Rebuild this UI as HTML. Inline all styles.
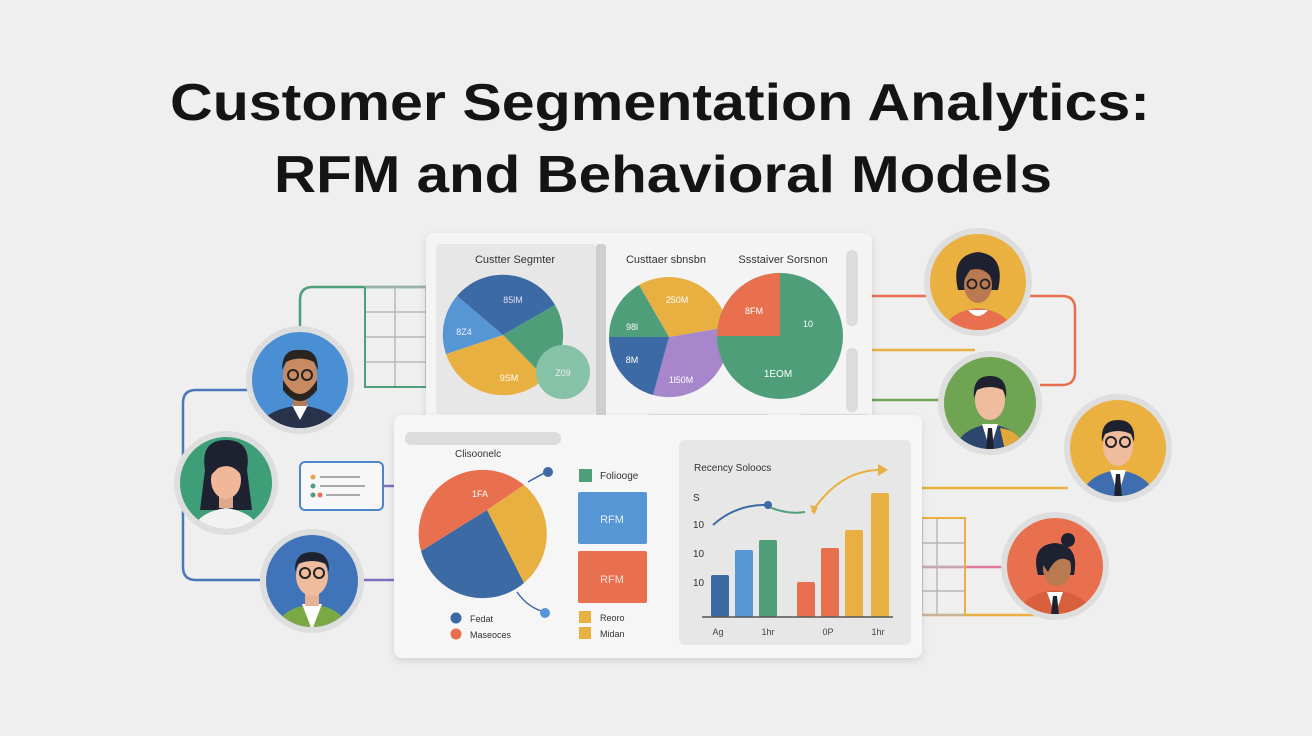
<!DOCTYPE html>
<html><head><meta charset="utf-8"><style>
html,body{margin:0;padding:0;background:#efefef;}
svg{display:block;font-family:"Liberation Sans",sans-serif;}
</style></head><body>
<svg width="1312" height="736" viewBox="0 0 1312 736" xmlns="http://www.w3.org/2000/svg">
<defs>
<filter id="sh" x="-10%" y="-10%" width="120%" height="125%"><feDropShadow dx="0" dy="3" stdDeviation="4" flood-color="#000" flood-opacity="0.12"/></filter>
<clipPath id="c1"><circle cx="300" cy="380" r="48"/></clipPath>
<clipPath id="c2"><circle cx="226" cy="483" r="46"/></clipPath>
<clipPath id="c3"><circle cx="312" cy="581" r="46"/></clipPath>
<clipPath id="c4"><circle cx="978" cy="282" r="48"/></clipPath>
<clipPath id="c5"><circle cx="990" cy="403" r="46"/></clipPath>
<clipPath id="c6"><circle cx="1118" cy="448" r="48"/></clipPath>
<clipPath id="c7"><circle cx="1055" cy="566" r="48"/></clipPath>
</defs>
<rect width="1312" height="736" fill="#efefef"/>
<text x="660" y="120" text-anchor="middle" font-size="52" font-weight="bold" fill="#141414" textLength="980" lengthAdjust="spacingAndGlyphs">Customer Segmentation Analytics:</text>
<text x="663" y="192" text-anchor="middle" font-size="52" font-weight="bold" fill="#141414" textLength="778" lengthAdjust="spacingAndGlyphs">RFM and Behavioral Models</text>

<!-- left connectors -->
<g fill="none" stroke-width="2.5">
<path d="M300 330 V300 Q300 287 313 287 H430" stroke="#4f9e7a"/>
<path d="M248 390 H196 Q183 390 183 403 V567 Q183 580 196 580 H262" stroke="#4a78b8"/>
<path d="M362 580 H396" stroke="#7a72c0"/>
<path d="M383 486 H396" stroke="#7a72c0"/>
</g>
<g stroke="#b8b8b8" stroke-width="1.5" fill="none">
<rect x="365" y="287" width="61" height="100"/>
<path d="M365 312H426M365 337H426M365 362H426M395 287V387"/>
</g>
<path d="M365 287 V387 H426" stroke="#4f9e7a" stroke-width="2" fill="none"/>
<rect x="300" y="462" width="83" height="48" rx="5" fill="#f7f7f7" stroke="#4a86c8" stroke-width="2"/>
<circle cx="313" cy="477" r="2.5" fill="#e8a34a"/><line x1="320" y1="477" x2="360" y2="477" stroke="#aaa" stroke-width="2"/>
<circle cx="313" cy="486" r="2.5" fill="#4f9e7a"/><line x1="320" y1="486" x2="365" y2="486" stroke="#aaa" stroke-width="2"/>
<circle cx="313" cy="495" r="2.5" fill="#4f9e7a"/><circle cx="320" cy="495" r="2.5" fill="#e8704f"/><line x1="326" y1="495" x2="360" y2="495" stroke="#aaa" stroke-width="2"/>

<!-- right connectors -->
<g fill="none" stroke-width="2.5">
<path d="M868 296 H930" stroke="#e8704f"/>
<path d="M1030 296 H1062 Q1075 296 1075 309 V372 Q1075 385 1062 385 H1040" stroke="#e8704f"/>
<path d="M868 350 H975" stroke="#eab040"/>
<path d="M868 400 H942" stroke="#6fa552"/>
<path d="M918 488 H1068" stroke="#eab040"/>
<path d="M918 567 H1003" stroke="#e07a9a"/>
<path d="M918 615 H1050" stroke="#eab040"/>
</g>
<g stroke="#b8b8b8" stroke-width="1.5" fill="none">
<rect x="922" y="518" width="43" height="97"/>
<path d="M922 543H965M922 567H965M922 591H965M937 518V615"/>
</g>
<path d="M922 518 H965 V615" stroke="#eab040" stroke-width="2" fill="none"/>

<!-- top panel -->
<rect x="426" y="233" width="446" height="200" rx="8" fill="#f4f4f4" filter="url(#sh)"/>
<rect x="436" y="244" width="160" height="170" rx="4" fill="#e7e7e7"/>
<rect x="596" y="244" width="10" height="196" rx="3" fill="#cfcfcf"/>
<rect x="846" y="250" width="12" height="76" rx="6" fill="#dcdcdc"/>
<rect x="846" y="348" width="12" height="64" rx="6" fill="#dcdcdc"/>
<rect x="645" y="414" width="127" height="13" rx="6" fill="#dedede"/>
<rect x="797" y="414" width="75" height="13" rx="6" fill="#dedede"/>
<text x="515" y="263" text-anchor="middle" font-size="11" fill="#333">Custter Segmter</text>
<text x="666" y="263" text-anchor="middle" font-size="11" fill="#333">Custtaer sbnsbn</text>
<text x="783" y="263" text-anchor="middle" font-size="11" fill="#333">Ssstaiver Sorsnon</text>
<!-- pie1 center 503,335 r60 -->
<g>
<path d="M503 335 L457 296 A60 60 0 0 1 555 305 Z" fill="#3c6aa5"/>
<path d="M503 335 L555 305 A60 60 0 0 1 545 378 Z" fill="#4f9e7a"/>
<path d="M503 335 L545 378 A60 60 0 0 1 446 354 Z" fill="#e8b040"/>
<path d="M503 335 L446 354 A60 60 0 0 1 457 296 Z" fill="#5696d4"/>
<circle cx="563" cy="372" r="27" fill="#86c2a8"/>
<text x="513" y="303" font-size="9" fill="#dde" text-anchor="middle">85lM</text>
<text x="464" y="335" font-size="9" fill="#eef" text-anchor="middle">8Z4</text>
<text x="509" y="381" font-size="9" fill="#fff" text-anchor="middle">9SM</text>
<text x="563" y="376" font-size="9" fill="#eee" text-anchor="middle">Z09</text>
</g>
<!-- pie2 center 669,337 r60 -->
<g>
<path d="M669 337 L639 285 A60 60 0 0 1 728 327 Z" fill="#e8b040"/>
<path d="M669 337 L728 327 A60 60 0 0 1 653 395 Z" fill="#a886cc"/>
<path d="M669 337 L653 395 A60 60 0 0 1 609 337 Z" fill="#3c6aa5"/>
<path d="M669 337 L609 337 A60 60 0 0 1 639 285 Z" fill="#4f9e7a"/>
<text x="677" y="303" font-size="9" fill="#fff" text-anchor="middle">250M</text>
<text x="632" y="330" font-size="9" fill="#fff" text-anchor="middle">98l</text>
<text x="632" y="363" font-size="9" fill="#fff" text-anchor="middle">8M</text>
<text x="681" y="383" font-size="9" fill="#fff" text-anchor="middle">1l50M</text>
</g>
<!-- pie3 center 780,336 r63 -->
<circle cx="780" cy="336" r="63" fill="#4f9e7a"/>
<path d="M780 336 V273 A63 63 0 0 0 717 336 Z" fill="#e8704f"/>
<text x="754" y="314" font-size="9" fill="#fff" text-anchor="middle">8FM</text>
<text x="808" y="327" font-size="9" fill="#fff" text-anchor="middle">10</text>
<text x="778" y="377" font-size="10" fill="#fff" text-anchor="middle">1EOM</text>

<!-- bottom panel -->
<rect x="394" y="415" width="528" height="243" rx="8" fill="#f6f6f6" filter="url(#sh)"/>
<rect x="405" y="432" width="156" height="13" rx="6" fill="#dcdcdc"/>
<text x="455" y="457" font-size="10" fill="#333">Clisoonelc</text>
<g>
<path d="M487 510 L524 485 A64 64 0 0 1 524 583 Z" fill="#e8b040"/>
<path d="M487 510 L524 583 A64 64 0 0 1 421 551 Z" fill="#3c6aa5"/>
<path d="M487 510 L421 551 A64 64 0 0 1 524 485 Z" fill="#e8704f"/>
<text x="480" y="497" font-size="9" fill="#fff" text-anchor="middle">1FA</text>
</g>
<path d="M528 482 Q540 475 547 472" stroke="#3c6aa5" stroke-width="1.5" fill="none"/>
<circle cx="548" cy="472" r="5" fill="#3c6aa5"/>
<path d="M517 592 Q528 608 545 612" stroke="#3c6aa5" stroke-width="1.5" fill="none"/>
<circle cx="545" cy="613" r="5" fill="#5696d4"/>
<circle cx="456" cy="618" r="5.5" fill="#3c6aa5"/><text x="470" y="622" font-size="9" fill="#333">Fedat</text>
<circle cx="456" cy="634" r="5.5" fill="#e8704f"/><text x="470" y="638" font-size="9" fill="#333">Maseoces</text>
<rect x="579" y="469" width="13" height="13" fill="#4f9e7a"/><text x="600" y="479" font-size="10" fill="#333">Foliooge</text>
<rect x="578" y="492" width="69" height="52" rx="2" fill="#5696d4"/><text x="612" y="523" font-size="11" fill="#e8eefa" text-anchor="middle">RFM</text>
<rect x="578" y="551" width="69" height="52" rx="2" fill="#e8704f"/><text x="612" y="583" font-size="11" fill="#fbe0d8" text-anchor="middle">RFM</text>
<rect x="579" y="611" width="12" height="12" fill="#e8b040"/><text x="600" y="621" font-size="9" fill="#333">Reoro</text>
<rect x="579" y="627" width="12" height="12" fill="#e8b040"/><text x="600" y="637" font-size="9" fill="#333">Midan</text>
<!-- chart -->
<rect x="679" y="440" width="232" height="205" rx="6" fill="#e7e7e7"/>
<text x="694" y="471" font-size="10" fill="#333">Recency Soloocs</text>
<text x="693" y="501" font-size="10" fill="#333">S</text>
<text x="693" y="528" font-size="10" fill="#333">10</text>
<text x="693" y="557" font-size="10" fill="#333">10</text>
<text x="693" y="586" font-size="10" fill="#333">10</text>
<path d="M713 525 Q735 505 765 505" stroke="#3c6aa5" stroke-width="2" fill="none"/>
<path d="M765 505 Q785 515 805 512" stroke="#4f9e7a" stroke-width="2" fill="none"/>
<circle cx="768" cy="505" r="4" fill="#3c6aa5"/>
<path d="M812 512 Q840 470 880 470" stroke="#e8b040" stroke-width="2" fill="none"/>
<path d="M878 464 L888 470 L878 476 Z" fill="#e8b040"/>
<path d="M810 505 L814 515 L818 507 Z" fill="#e8b040"/>
<rect x="711" y="575" width="18" height="42" rx="2" fill="#3c6aa5"/>
<rect x="735" y="550" width="18" height="67" rx="2" fill="#5696d4"/>
<rect x="759" y="540" width="18" height="77" rx="2" fill="#4f9e7a"/>
<rect x="797" y="582" width="18" height="35" rx="2" fill="#e8704f"/>
<rect x="821" y="548" width="18" height="69" rx="2" fill="#e8704f"/>
<rect x="845" y="530" width="18" height="87" rx="2" fill="#e8b040"/>
<rect x="871" y="493" width="18" height="124" rx="2" fill="#e8b040"/>
<line x1="702" y1="617" x2="893" y2="617" stroke="#555" stroke-width="1.5"/>
<text x="718" y="635" font-size="9" fill="#444" text-anchor="middle">Ag</text>
<text x="768" y="635" font-size="9" fill="#444" text-anchor="middle">1hr</text>
<text x="828" y="635" font-size="9" fill="#444" text-anchor="middle">0P</text>
<text x="878" y="635" font-size="9" fill="#444" text-anchor="middle">1hr</text>

<!-- avatars -->
<g>
<circle cx="300" cy="380" r="54" fill="#dedede"/>
<g clip-path="url(#c1)"><rect x="240" y="320" width="120" height="120" fill="#4a8fd4"/>
<path d="M258 430 Q262 410 300 405 Q338 410 342 430Z" fill="#28324a"/><path d="M292 405 L300 420 L308 405Z" fill="#fff"/>
<rect x="293" y="390" width="14" height="16" fill="#b37a56"/>
<ellipse cx="300" cy="375" rx="17" ry="21" fill="#c88a62"/>
<path d="M283 380 Q300 408 317 380 L317 390 Q300 412 283 390Z" fill="#2a2420"/>
<path d="M282 370 Q282 348 300 350 Q318 348 318 370 L314 362 Q300 355 286 362Z" fill="#2a2420"/>
<circle cx="293" cy="375" r="5" fill="none" stroke="#222" stroke-width="2"/><circle cx="307" cy="375" r="5" fill="none" stroke="#222" stroke-width="2"/>
</g>
<circle cx="226" cy="483" r="52" fill="#dedede"/>
<g clip-path="url(#c2)"><rect x="170" y="430" width="120" height="110" fill="#3e9e78"/>
<path d="M205 470 Q200 440 226 440 Q252 440 247 470 L252 510 L200 510Z" fill="#1e2230"/>
<path d="M190 535 Q196 512 226 508 Q256 512 262 535Z" fill="#f2f2f2"/>
<rect x="219" y="492" width="14" height="16" fill="#e0a88a"/>
<ellipse cx="226" cy="480" rx="15" ry="19" fill="#f0b898"/>
<path d="M211 475 Q212 458 226 458 Q240 458 241 475 Q232 462 218 468Z" fill="#1e2230"/>
</g>
<circle cx="312" cy="581" r="52" fill="#dedede"/>
<g clip-path="url(#c3)"><rect x="260" y="530" width="110" height="110" fill="#3f74b8"/>
<path d="M275 630 Q280 608 312 604 Q344 608 349 630Z" fill="#7aa844"/><path d="M302 604 L312 630 L322 604Z" fill="#fff"/>
<rect x="305" y="590" width="14" height="16" fill="#e8b094"/>
<ellipse cx="312" cy="576" rx="16" ry="20" fill="#f0bc9e"/>
<path d="M295 572 Q294 552 312 552 Q330 552 329 572 L326 564 Q312 558 298 564Z" fill="#1e2230"/>
<circle cx="305" cy="573" r="5" fill="none" stroke="#222" stroke-width="2"/><circle cx="319" cy="573" r="5" fill="none" stroke="#222" stroke-width="2"/>
</g>
<circle cx="978" cy="282" r="54" fill="#dedede"/>
<g clip-path="url(#c4)"><rect x="925" y="230" width="110" height="110" fill="#eab040"/>
<path d="M958 290 Q950 255 978 252 Q1006 255 998 290Z" fill="#1e2230"/>
<path d="M944 330 Q948 312 978 308 Q1008 312 1012 330Z" fill="#e8704f"/>
<path d="M968 310 Q978 322 988 310Z" fill="#fff"/>
<ellipse cx="978" cy="285" rx="14" ry="18" fill="#b97a52"/>
<path d="M964 280 Q966 260 978 260 Q992 260 993 280 Q985 266 970 270Z" fill="#1e2230"/>
<circle cx="972" cy="284" r="4.5" fill="none" stroke="#222" stroke-width="1.8"/><circle cx="985" cy="284" r="4.5" fill="none" stroke="#222" stroke-width="1.8"/>
</g>
<circle cx="990" cy="403" r="52" fill="#dedede"/>
<g clip-path="url(#c5)"><rect x="940" y="350" width="100" height="110" fill="#6fa552"/>
<path d="M955 450 Q960 428 990 424 Q1020 428 1025 450Z" fill="#2c4670"/><path d="M1000 428 Q1020 430 1025 450 L1005 450Z" fill="#e0a838"/>
<path d="M982 424 L990 450 L998 424Z" fill="#fff"/><path d="M988 428 L986 450 L994 450 L992 428Z" fill="#1e2230"/>
<ellipse cx="990" cy="400" rx="15" ry="20" fill="#f0bc9e"/>
<path d="M974 398 Q972 376 990 376 Q1008 376 1006 398 L1003 390 Q990 384 977 390Z" fill="#1e2230"/>
</g>
<circle cx="1118" cy="448" r="54" fill="#dedede"/>
<g clip-path="url(#c6)"><rect x="1065" y="395" width="110" height="110" fill="#eab040"/>
<path d="M1080 500 Q1085 474 1118 470 Q1151 474 1156 500Z" fill="#3f6eb0"/>
<path d="M1110 470 L1118 495 L1126 470Z" fill="#fff"/><path d="M1116 474 L1114 498 L1122 498 L1120 474Z" fill="#1e2230"/>
<ellipse cx="1118" cy="446" rx="15" ry="20" fill="#f0bc9e"/>
<path d="M1102 442 Q1100 420 1118 420 Q1136 420 1134 442 L1131 434 Q1118 428 1105 434Z" fill="#1e2230"/>
<circle cx="1111" cy="442" r="5" fill="none" stroke="#222" stroke-width="2"/><circle cx="1125" cy="442" r="5" fill="none" stroke="#222" stroke-width="2"/>
</g>
<circle cx="1055" cy="566" r="54" fill="#dedede"/>
<g clip-path="url(#c7)"><rect x="1000" y="510" width="110" height="110" fill="#e8704f"/>
<path d="M1018 615 Q1022 594 1055 590 Q1088 594 1092 615Z" fill="#d8603e"/>
<path d="M1047 592 L1055 615 L1063 592Z" fill="#fff"/><path d="M1053 596 L1051 615 L1059 615 L1057 596Z" fill="#1e2230"/>
<path d="M1038 575 Q1030 545 1055 543 Q1080 545 1074 575Z" fill="#1e2230"/>
<circle cx="1068" cy="540" r="7" fill="#1e2230"/>
<ellipse cx="1057" cy="568" rx="14" ry="18" fill="#b97a52"/>
<path d="M1043 565 Q1045 548 1060 548 Q1072 552 1071 562 Q1058 552 1048 572Z" fill="#1e2230"/>
</g>
</g>
</svg>
</body></html>
